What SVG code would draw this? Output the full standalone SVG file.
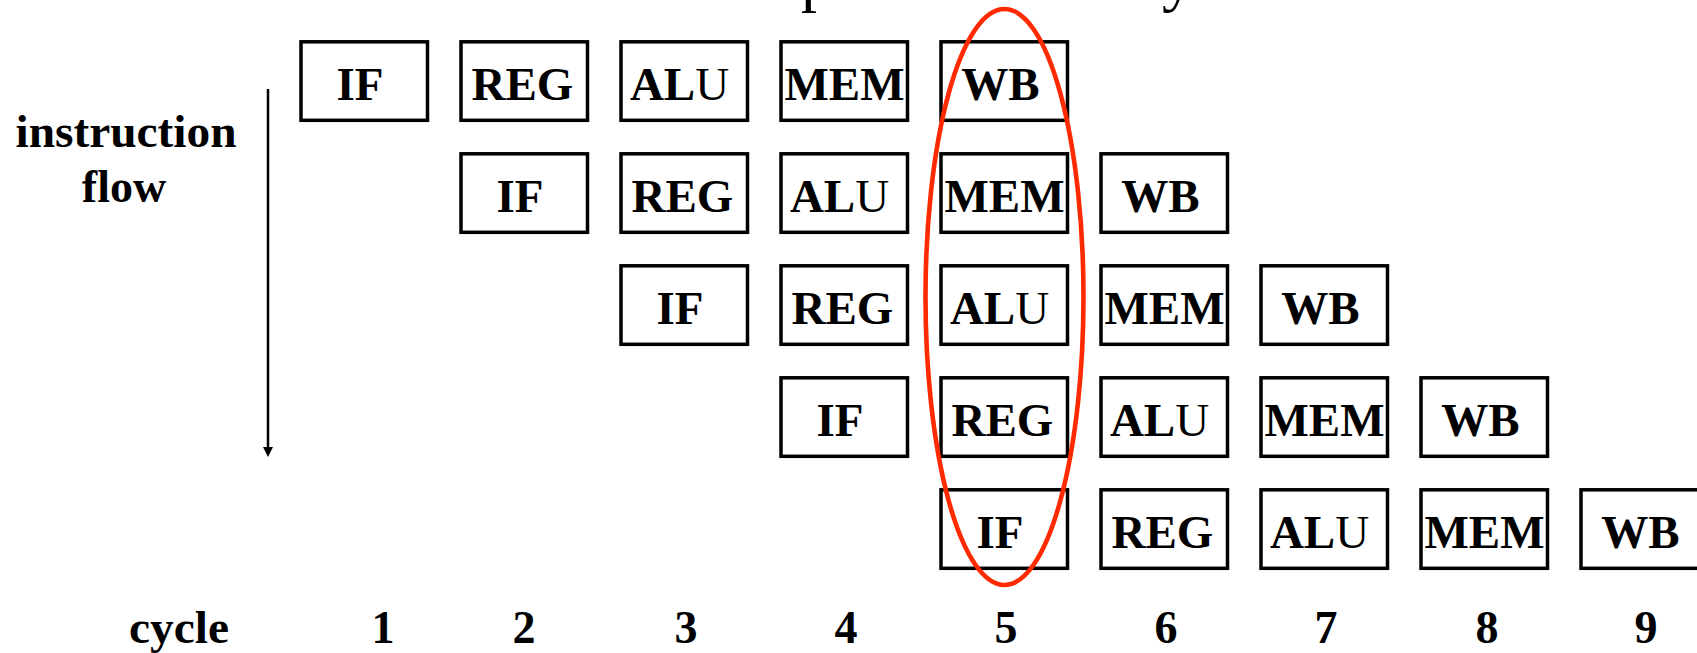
<svg xmlns="http://www.w3.org/2000/svg" width="1697" height="653" viewBox="0 0 1697 653">
  <defs>
    <style>
      .stage rect { fill: #ffffff; stroke: #000000; stroke-width: 3.5; }
      .stage text { font-family: "Liberation Serif", "Times New Roman", serif; font-weight: bold; font-size: 47px; fill: #000000; text-anchor: middle; }
      .lbl { font-family: "Liberation Serif", "Times New Roman", serif; font-weight: bold; font-size: 46px; fill: #000000; }
      .title { font-family: "Liberation Serif", "Times New Roman", serif; font-size: 64px; fill: #000000; }
      .lite { font-weight: normal; }
      .flow { stroke: #000000; stroke-width: 2.5; fill: none; }
      .highlight { fill: none; stroke: #ff2a00; stroke-width: 4.6; }
    </style>
    <marker id="arrowhead" markerUnits="userSpaceOnUse" markerWidth="10" markerHeight="10" refX="0" refY="5" orient="auto">
      <path d="M0,0 L10,5 L0,10 Z" fill="#000000"/>
    </marker>
  </defs>

  <rect width="1697" height="653" fill="#ffffff"/>

  <!-- descenders of the heading line, clipped by the top edge -->
  <text class="title" x="801" y="-1">p</text>
  <text class="title" x="1162" y="-1">y</text>

  <!-- side labels -->
  <text class="lbl" x="126" y="147" text-anchor="middle" textLength="221" lengthAdjust="spacingAndGlyphs">instruction</text>
  <text class="lbl" x="124" y="202" text-anchor="middle">flow</text>

  <!-- connectors -->
  <g id="connectors">
    <line class="flow" x1="268" y1="89" x2="268" y2="447" marker-end="url(#arrowhead)"/>
  </g>

  <!-- instruction 1 -->
  <g id="i1-if" class="stage"><rect x="301" y="41.8" width="126.5" height="78.5"/><text x="360" y="100">IF</text></g>
  <g id="i1-reg" class="stage"><rect x="461" y="41.8" width="126.5" height="78.5"/><text x="522.5" y="100">REG</text></g>
  <g id="i1-alu" class="stage"><rect x="621" y="41.8" width="126.5" height="78.5"/><text x="679.5" y="100">AL<tspan class="lite">U</tspan></text></g>
  <g id="i1-mem" class="stage"><rect x="781" y="41.8" width="126.5" height="78.5"/><text x="844.5" y="100">MEM</text></g>
  <g id="i1-wb" class="stage"><rect x="941" y="41.8" width="126.5" height="78.5"/><text x="1000.5" y="100">WB</text></g>

  <!-- instruction 2 -->
  <g id="i2-if" class="stage"><rect x="461" y="153.8" width="126.5" height="78.5"/><text x="520" y="212">IF</text></g>
  <g id="i2-reg" class="stage"><rect x="621" y="153.8" width="126.5" height="78.5"/><text x="682.5" y="212">REG</text></g>
  <g id="i2-alu" class="stage"><rect x="781" y="153.8" width="126.5" height="78.5"/><text x="839.5" y="212">AL<tspan class="lite">U</tspan></text></g>
  <g id="i2-mem" class="stage"><rect x="941" y="153.8" width="126.5" height="78.5"/><text x="1004.5" y="212">MEM</text></g>
  <g id="i2-wb" class="stage"><rect x="1101" y="153.8" width="126.5" height="78.5"/><text x="1160.5" y="212">WB</text></g>

  <!-- instruction 3 -->
  <g id="i3-if" class="stage"><rect x="621" y="265.8" width="126.5" height="78.5"/><text x="680" y="324">IF</text></g>
  <g id="i3-reg" class="stage"><rect x="781" y="265.8" width="126.5" height="78.5"/><text x="842.5" y="324">REG</text></g>
  <g id="i3-alu" class="stage"><rect x="941" y="265.8" width="126.5" height="78.5"/><text x="999.5" y="324">AL<tspan class="lite">U</tspan></text></g>
  <g id="i3-mem" class="stage"><rect x="1101" y="265.8" width="126.5" height="78.5"/><text x="1164.5" y="324">MEM</text></g>
  <g id="i3-wb" class="stage"><rect x="1261" y="265.8" width="126.5" height="78.5"/><text x="1320.5" y="324">WB</text></g>

  <!-- instruction 4 -->
  <g id="i4-if" class="stage"><rect x="781" y="377.8" width="126.5" height="78.5"/><text x="840" y="436">IF</text></g>
  <g id="i4-reg" class="stage"><rect x="941" y="377.8" width="126.5" height="78.5"/><text x="1002.5" y="436">REG</text></g>
  <g id="i4-alu" class="stage"><rect x="1101" y="377.8" width="126.5" height="78.5"/><text x="1159.5" y="436">AL<tspan class="lite">U</tspan></text></g>
  <g id="i4-mem" class="stage"><rect x="1261" y="377.8" width="126.5" height="78.5"/><text x="1324.5" y="436">MEM</text></g>
  <g id="i4-wb" class="stage"><rect x="1421" y="377.8" width="126.5" height="78.5"/><text x="1480.5" y="436">WB</text></g>

  <!-- instruction 5 -->
  <g id="i5-if" class="stage"><rect x="941" y="489.8" width="126.5" height="78.5"/><text x="1000" y="548">IF</text></g>
  <g id="i5-reg" class="stage"><rect x="1101" y="489.8" width="126.5" height="78.5"/><text x="1162.5" y="548">REG</text></g>
  <g id="i5-alu" class="stage"><rect x="1261" y="489.8" width="126.5" height="78.5"/><text x="1319.5" y="548">AL<tspan class="lite">U</tspan></text></g>
  <g id="i5-mem" class="stage"><rect x="1421" y="489.8" width="126.5" height="78.5"/><text x="1484.5" y="548">MEM</text></g>
  <g id="i5-wb" class="stage"><rect x="1581" y="489.8" width="126.5" height="78.5"/><text x="1640.5" y="548">WB</text></g>

  <!-- cycle 5 column highlight -->
  <g id="cycle5-highlight">
    <ellipse class="highlight" cx="1004.5" cy="297" rx="79" ry="288"/>
  </g>

  <!-- cycle axis -->
  <g id="cycle-axis" class="lbl" text-anchor="middle">
    <text x="179" y="643" textLength="100" lengthAdjust="spacingAndGlyphs">cycle</text>
    <text x="383" y="643">1</text>
    <text x="524" y="643">2</text>
    <text x="686" y="643">3</text>
    <text x="846" y="643">4</text>
    <text x="1006" y="643">5</text>
    <text x="1166" y="643">6</text>
    <text x="1326" y="643">7</text>
    <text x="1487" y="643">8</text>
    <text x="1646" y="643">9</text>
  </g>
</svg>
